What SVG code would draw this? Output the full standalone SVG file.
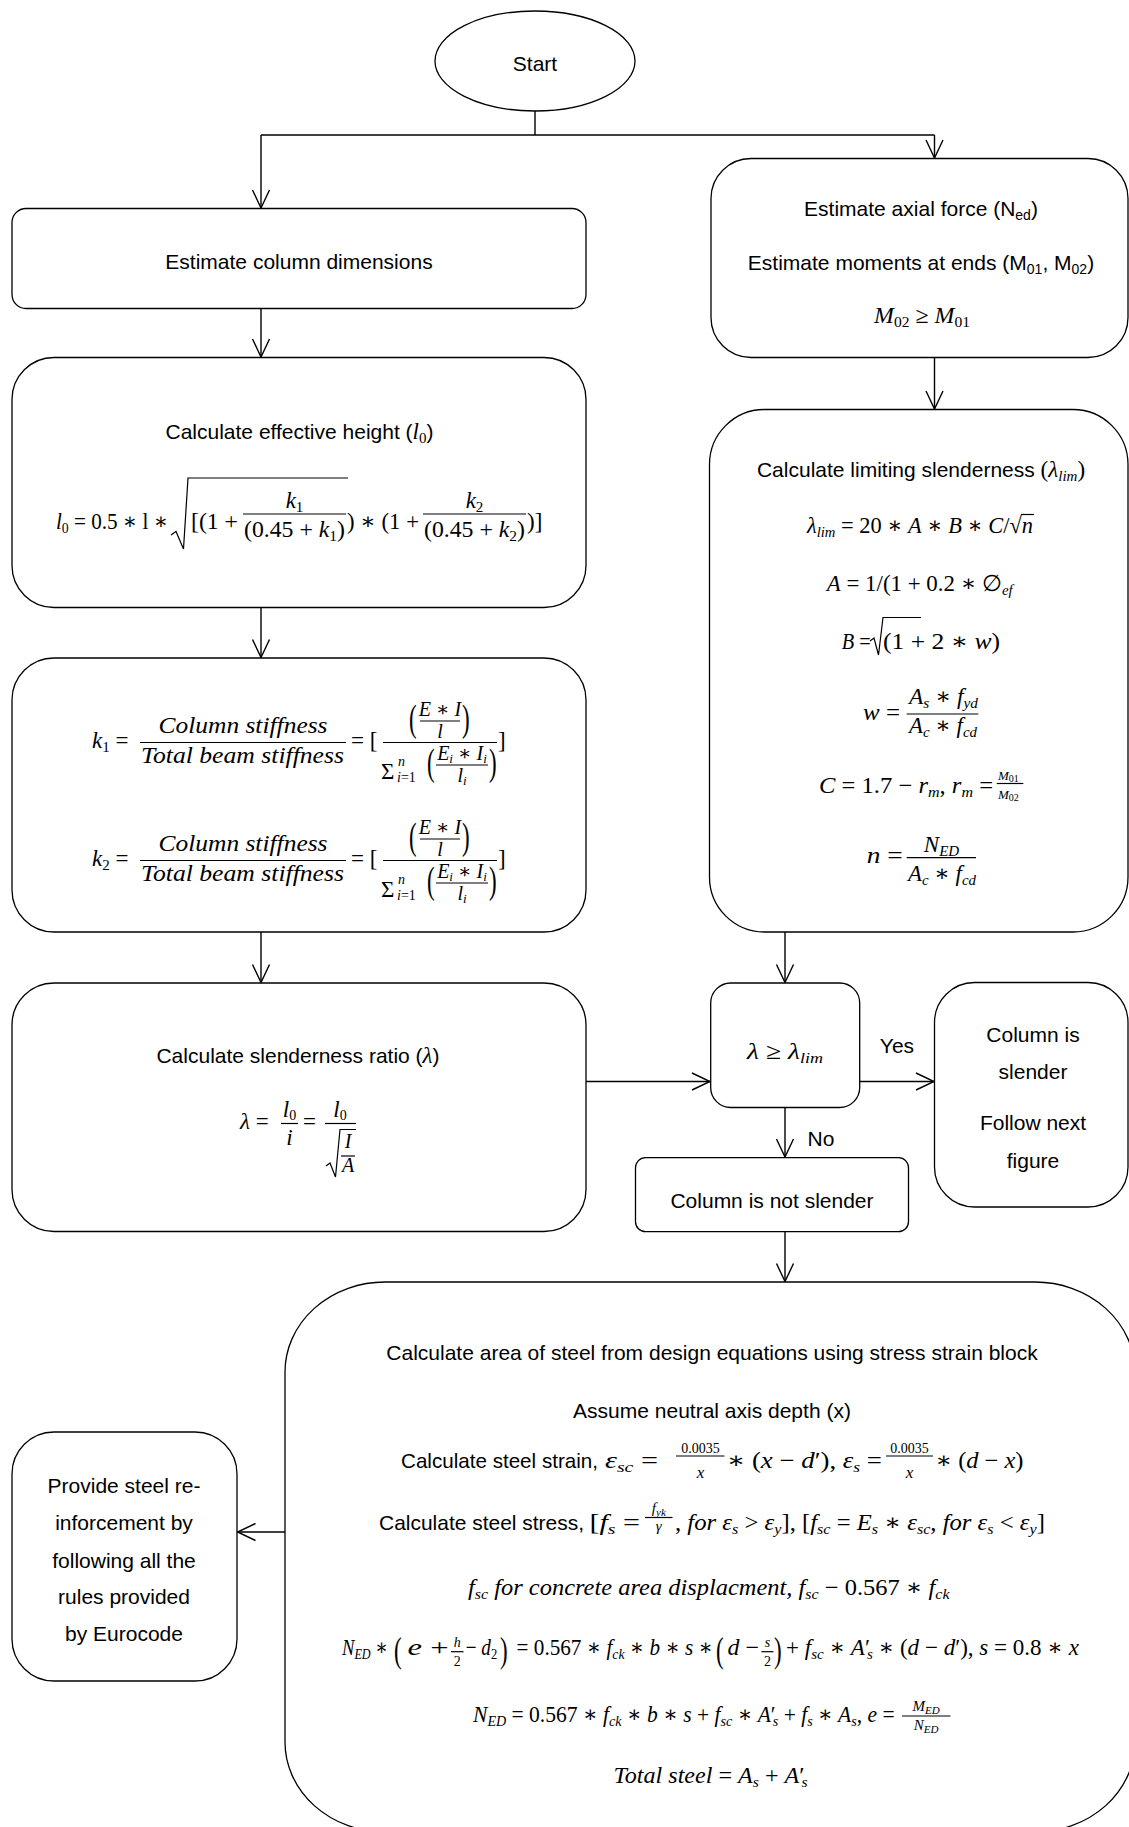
<svg xmlns="http://www.w3.org/2000/svg" width="1129" height="1827" viewBox="0 0 1129 1827">
<defs>
<style>
.box{fill:#fff;stroke:#000;stroke-width:1.3}
.t{font-family:"Liberation Sans",Arial,sans-serif;font-size:21px;fill:#000;text-anchor:middle}
.st{text-anchor:start}
.m{font-family:"Liberation Serif","DejaVu Serif",serif;font-size:23px;font-style:italic;fill:#000}
.mc{text-anchor:middle}
.u{font-style:normal}
.p{font-size:27px;font-style:normal}
.b{stroke:#000;stroke-width:1.2;fill:none}
.conn line{stroke:#000;stroke-width:1.4;fill:none}
</style>
<marker id="ah" viewBox="0 0 20 20" refX="19" refY="10" markerWidth="20" markerHeight="20" markerUnits="userSpaceOnUse" orient="auto">
<path d="M1,1.5 L19,10 L1,18.5" fill="none" stroke="#000" stroke-width="1.4"/>
</marker>
</defs>
<rect width="1129" height="1827" fill="#fff"/>

<g id="connectors" class="conn">
<line x1="535" y1="111" x2="535" y2="135"/>
<line x1="261" y1="135" x2="934.5" y2="135"/>
<line x1="261" y1="135" x2="261" y2="208" marker-end="url(#ah)"/>
<line x1="934.5" y1="135" x2="934.5" y2="158" marker-end="url(#ah)"/>
<line x1="261" y1="308.5" x2="261" y2="357" marker-end="url(#ah)"/>
<line x1="261" y1="607.5" x2="261" y2="657.5" marker-end="url(#ah)"/>
<line x1="261" y1="932" x2="261" y2="982.5" marker-end="url(#ah)"/>
<line x1="934.5" y1="357.5" x2="934.5" y2="409" marker-end="url(#ah)"/>
<line x1="785" y1="932" x2="785" y2="982.5" marker-end="url(#ah)"/>
<line x1="586" y1="1081.5" x2="710" y2="1081.5" marker-end="url(#ah)"/>
<line x1="859.7" y1="1081.5" x2="934" y2="1081.5" marker-end="url(#ah)"/>
<line x1="785" y1="1107.5" x2="785" y2="1157" marker-end="url(#ah)"/>
<line x1="785" y1="1231.7" x2="785" y2="1281.5" marker-end="url(#ah)"/>
<line x1="285" y1="1532" x2="237.5" y2="1532" marker-end="url(#ah)"/>
</g>

<g id="start">
<ellipse class="box" cx="535" cy="61" rx="100" ry="50"/>
<text class="t" x="535" y="71">Start</text>
</g>

<g id="estimate-dimensions">
<rect class="box" x="12" y="208.5" width="574" height="100" rx="14"/>
<text class="t" x="299" y="268.5">Estimate column dimensions</text>
</g>

<g id="estimate-forces">
<rect class="box" x="711" y="158.5" width="417" height="199" rx="40"/>
<text class="t" x="921" y="216">Estimate axial force (N<tspan style="font-size:14px" dy="4">ed</tspan><tspan dy="-4">)</tspan></text>
<text class="t" x="921" y="270">Estimate moments at ends (M<tspan style="font-size:14px" dy="4">01</tspan><tspan dy="-4">, M</tspan><tspan style="font-size:14px" dy="4">02</tspan><tspan dy="-4">)</tspan></text>
<text class="m" x="874" y="323" textLength="96" lengthAdjust="spacingAndGlyphs">M<tspan class="u" style="font-size:15px" dy="4">02</tspan><tspan class="u" dy="-4"> ≥ </tspan>M<tspan class="u" style="font-size:15px" dy="4">01</tspan></text>
</g>

<g id="effective-height">
<rect class="box" x="12" y="357.5" width="574" height="250" rx="42"/>
<text class="t" x="299.5" y="439">Calculate effective height (<tspan class="m">l</tspan><tspan class="m u" style="font-size:15px" dy="4">0</tspan><tspan dy="-4">)</tspan></text>
<text class="m" x="56" y="529" textLength="112" lengthAdjust="spacingAndGlyphs">l<tspan class="u" style="font-size:15px" dy="4">0</tspan><tspan class="u" dy="-4"> = 0.5 ∗ l ∗</tspan></text>
<path class="b" d="M171,535 L176,531.5 L183.5,549 L188,478 L348,478"/>
<text class="m u" x="191" y="529" textLength="47" lengthAdjust="spacingAndGlyphs">[(1 +</text>
<line class="b" x1="243" y1="514" x2="346" y2="514"/>
<text class="m mc" x="294.5" y="508">k<tspan class="u" style="font-size:15px" dy="4">1</tspan></text>
<text class="m mc u" x="294.5" y="537" textLength="101" lengthAdjust="spacingAndGlyphs">(0.45 + <tspan style="font-style:italic">k</tspan><tspan style="font-size:15px" dy="4">1</tspan><tspan dy="-4">)</tspan></text>
<text class="m u" x="347" y="529" textLength="72" lengthAdjust="spacingAndGlyphs">) ∗ (1 +</text>
<line class="b" x1="423" y1="514" x2="526" y2="514"/>
<text class="m mc" x="474.5" y="508">k<tspan class="u" style="font-size:15px" dy="4">2</tspan></text>
<text class="m mc u" x="474.5" y="537" textLength="101" lengthAdjust="spacingAndGlyphs">(0.45 + <tspan style="font-style:italic">k</tspan><tspan style="font-size:15px" dy="4">2</tspan><tspan dy="-4">)</tspan></text>
<text class="m u" x="527" y="529">)]</text>
</g>

<g id="stiffness">
<rect class="box" x="12" y="658" width="574" height="274" rx="42"/>
<text class="m" x="92" y="748">k<tspan class="u" style="font-size:15px" dy="4">1</tspan><tspan class="u" dy="-4"> =</tspan></text>
<line class="b" x1="140" y1="742.5" x2="346" y2="742.5"/>
<text class="m" x="158.5" y="733" textLength="169" lengthAdjust="spacingAndGlyphs">Column stiffness</text>
<text class="m" x="141" y="763" textLength="203" lengthAdjust="spacingAndGlyphs">Total beam stiffness</text>
<text class="m u" x="351" y="748">= [</text>
<line class="b" x1="383" y1="742.5" x2="497" y2="742.5"/>
<text class="m p" transform="translate(409 731) scale(0.85 1.4)">(</text>
<line class="b" x1="420" y1="721" x2="460" y2="721"/>
<text class="m mc" x="440" y="716" style="font-size:20px">E<tspan class="u"> ∗ </tspan>I</text>
<text class="m mc" x="440" y="738" style="font-size:20px">l</text>
<text class="m p" transform="translate(462 731) scale(0.85 1.4)">)</text>
<text class="m u" x="381" y="779">Σ</text>
<text class="m" x="398" y="766" style="font-size:14px">n</text>
<text class="m" x="397" y="782" style="font-size:14px">i<tspan class="u">=1</tspan></text>
<text class="m p" transform="translate(427 775) scale(0.85 1.4)">(</text>
<line class="b" x1="436" y1="765" x2="488" y2="765"/>
<text class="m mc" x="462" y="760" style="font-size:20px">E<tspan style="font-size:13px" dy="3">i</tspan><tspan class="u" dy="-3"> ∗ </tspan>I<tspan style="font-size:13px" dy="3">i</tspan></text>
<text class="m mc" x="462" y="782" style="font-size:20px">l<tspan style="font-size:13px" dy="3">i</tspan></text>
<text class="m p" transform="translate(489 775) scale(0.85 1.4)">)</text>
<text class="m u" x="498" y="748">]</text>

<text class="m" x="92" y="866">k<tspan class="u" style="font-size:15px" dy="4">2</tspan><tspan class="u" dy="-4"> =</tspan></text>
<line class="b" x1="140" y1="860.5" x2="346" y2="860.5"/>
<text class="m" x="158.5" y="851" textLength="169" lengthAdjust="spacingAndGlyphs">Column stiffness</text>
<text class="m" x="141" y="881" textLength="203" lengthAdjust="spacingAndGlyphs">Total beam stiffness</text>
<text class="m u" x="351" y="866">= [</text>
<line class="b" x1="383" y1="860.5" x2="497" y2="860.5"/>
<text class="m p" transform="translate(409 849) scale(0.85 1.4)">(</text>
<line class="b" x1="420" y1="839" x2="460" y2="839"/>
<text class="m mc" x="440" y="834" style="font-size:20px">E<tspan class="u"> ∗ </tspan>I</text>
<text class="m mc" x="440" y="856" style="font-size:20px">l</text>
<text class="m p" transform="translate(462 849) scale(0.85 1.4)">)</text>
<text class="m u" x="381" y="897">Σ</text>
<text class="m" x="398" y="884" style="font-size:14px">n</text>
<text class="m" x="397" y="900" style="font-size:14px">i<tspan class="u">=1</tspan></text>
<text class="m p" transform="translate(427 893) scale(0.85 1.4)">(</text>
<line class="b" x1="436" y1="883" x2="488" y2="883"/>
<text class="m mc" x="462" y="878" style="font-size:20px">E<tspan style="font-size:13px" dy="3">i</tspan><tspan class="u" dy="-3"> ∗ </tspan>I<tspan style="font-size:13px" dy="3">i</tspan></text>
<text class="m mc" x="462" y="900" style="font-size:20px">l<tspan style="font-size:13px" dy="3">i</tspan></text>
<text class="m p" transform="translate(489 893) scale(0.85 1.4)">)</text>
<text class="m u" x="498" y="866">]</text>
</g>

<g id="slenderness-ratio">
<rect class="box" x="12" y="983" width="574" height="248.5" rx="42"/>
<text class="t" x="298" y="1063">Calculate slenderness ratio (<tspan class="m">λ</tspan>)</text>
<text class="m" x="240" y="1129">λ<tspan class="u"> =</tspan></text>
<line class="b" x1="281" y1="1123.5" x2="298" y2="1123.5"/>
<text class="m mc" x="289.5" y="1117">l<tspan class="u" style="font-size:14px" dy="3">0</tspan></text>
<text class="m mc" x="289.5" y="1145">i</text>
<text class="m u" x="303" y="1129">=</text>
<line class="b" x1="325" y1="1123.5" x2="356" y2="1123.5"/>
<text class="m mc" x="340" y="1117">l<tspan class="u" style="font-size:14px" dy="3">0</tspan></text>
<path class="b" d="M326,1166 L330,1163 L335.5,1177 L340,1129.5 L356,1129.5"/>
<text class="m mc" x="348" y="1148" style="font-size:20px">I</text>
<line class="b" x1="341" y1="1156" x2="355" y2="1156"/>
<text class="m mc" x="348" y="1172" style="font-size:20px">A</text>
</g>

<g id="limiting-slenderness">
<rect class="box" x="709.5" y="409.5" width="418.5" height="522.5" rx="55"/>
<text class="t" x="921" y="477">Calculate limiting slenderness <tspan class="m u">(</tspan><tspan class="m">λ</tspan><tspan class="m" style="font-size:15px" dy="4">lim</tspan><tspan class="m u" dy="-4">)</tspan></text>
<text class="m" x="807" y="533" textLength="226" lengthAdjust="spacingAndGlyphs">λ<tspan style="font-size:15px" dy="4">lim</tspan><tspan class="u" dy="-4"> = 20 ∗ </tspan>A<tspan class="u"> ∗ </tspan>B<tspan class="u"> ∗ </tspan>C<tspan class="u">/√</tspan>n</text>
<line class="b" x1="1021" y1="514.5" x2="1034" y2="514.5"/>
<text class="m" x="826.7" y="591" textLength="186" lengthAdjust="spacingAndGlyphs">A<tspan class="u"> = 1/(1 + 0.2 ∗ ∅</tspan><tspan style="font-size:15px" dy="4">ef</tspan></text>
<text class="m" x="841.7" y="649" textLength="29" lengthAdjust="spacingAndGlyphs">B<tspan class="u"> =</tspan></text>
<path class="b" d="M870,641 L874,638 L878.5,655 L883,617.5 L921,617.5"/>
<text class="m u" x="883" y="649" textLength="117" lengthAdjust="spacingAndGlyphs">(1 + 2 ∗ <tspan style="font-style:italic">w</tspan>)</text>
<text class="m" x="863" y="720" textLength="37" lengthAdjust="spacingAndGlyphs">w<tspan class="u"> =</tspan></text>
<line class="b" x1="906.7" y1="714" x2="978.3" y2="714"/>
<text class="m" x="909" y="704" textLength="69" lengthAdjust="spacingAndGlyphs">A<tspan style="font-size:15px" dy="4">s</tspan><tspan class="u" dy="-4"> ∗ </tspan>f<tspan style="font-size:15px" dy="4">yd</tspan></text>
<text class="m" x="909" y="733" textLength="68" lengthAdjust="spacingAndGlyphs">A<tspan style="font-size:15px" dy="4">c</tspan><tspan class="u" dy="-4"> ∗ </tspan>f<tspan style="font-size:15px" dy="4">cd</tspan></text>
<text class="m" x="819" y="793" textLength="174" lengthAdjust="spacingAndGlyphs">C<tspan class="u"> = 1.7 − </tspan>r<tspan style="font-size:15px" dy="4">m</tspan><tspan class="u" dy="-4">, </tspan>r<tspan style="font-size:15px" dy="4">m</tspan><tspan class="u" dy="-4"> =</tspan></text>
<line class="b" x1="996.7" y1="783.5" x2="1023.3" y2="783.5"/>
<text class="m" x="998" y="780" style="font-size:13px">M<tspan class="u" style="font-size:10px" dy="2">01</tspan></text>
<text class="m" x="998" y="799" style="font-size:13px">M<tspan class="u" style="font-size:10px" dy="2">02</tspan></text>
<text class="m" x="866.7" y="863" textLength="36" lengthAdjust="spacingAndGlyphs">n<tspan class="u"> =</tspan></text>
<line class="b" x1="906.7" y1="857.7" x2="976" y2="857.7"/>
<text class="m mc" x="941.5" y="851.5">N<tspan style="font-size:15px" dy="4">ED</tspan></text>
<text class="m" x="908" y="881" textLength="68" lengthAdjust="spacingAndGlyphs">A<tspan style="font-size:15px" dy="4">c</tspan><tspan class="u" dy="-4"> ∗ </tspan>f<tspan style="font-size:15px" dy="4">cd</tspan></text>
</g>

<g id="decision">
<rect class="box" x="710.7" y="983" width="149" height="124.5" rx="20"/>
<text class="m" x="747" y="1059" textLength="76" lengthAdjust="spacingAndGlyphs">λ<tspan class="u"> ≥ </tspan>λ<tspan style="font-size:15px" dy="4">lim</tspan></text>
<text class="t" x="897" y="1053">Yes</text>
<text class="t" x="821" y="1145.5">No</text>
</g>

<g id="slender">
<rect class="box" x="934.5" y="982.5" width="193.5" height="224.5" rx="40"/>
<text class="t" x="1033" y="1042">Column is</text>
<text class="t" x="1033" y="1079">slender</text>
<text class="t" x="1033" y="1130">Follow next</text>
<text class="t" x="1033" y="1168">figure</text>
</g>

<g id="not-slender">
<rect class="box" x="635.5" y="1157.7" width="273" height="74" rx="10"/>
<text class="t" x="772" y="1207.5">Column is not slender</text>
</g>

<g id="steel-area">
<rect class="box" x="285" y="1282" width="850" height="550" rx="100" ry="90"/>
<text class="t" x="712" y="1360">Calculate area of steel from design equations using stress strain block</text>
<text class="t" x="712" y="1418">Assume neutral axis depth (x)</text>

<text class="t st" x="401" y="1468" textLength="197" lengthAdjust="spacingAndGlyphs">Calculate steel strain,</text>
<text class="m" x="605" y="1468" textLength="53" lengthAdjust="spacingAndGlyphs">ε<tspan style="font-size:15px" dy="4">sc</tspan><tspan class="u" dy="-4"> =</tspan></text>
<line class="b" x1="676" y1="1456" x2="724.5" y2="1456"/>
<text class="m mc u" x="700.4" y="1452.5" style="font-size:14px">0.0035</text>
<text class="m mc" x="700.4" y="1478" style="font-size:17px">x</text>
<text class="m" x="727" y="1468" textLength="155" lengthAdjust="spacingAndGlyphs"><tspan class="u">∗ (</tspan>x<tspan class="u"> − </tspan>d<tspan class="u">′), </tspan>ε<tspan style="font-size:15px" dy="4">s</tspan><tspan class="u" dy="-4"> =</tspan></text>
<line class="b" x1="886" y1="1456" x2="933" y2="1456"/>
<text class="m mc u" x="909.5" y="1452.5" style="font-size:14px">0.0035</text>
<text class="m mc" x="909.5" y="1478" style="font-size:17px">x</text>
<text class="m" x="935.5" y="1468" textLength="88" lengthAdjust="spacingAndGlyphs"><tspan class="u">∗ (</tspan>d<tspan class="u"> − </tspan>x<tspan class="u">)</tspan></text>

<text class="t st" x="379" y="1530" textLength="205" lengthAdjust="spacingAndGlyphs">Calculate steel stress,</text>
<text class="m" x="589.5" y="1530" textLength="50.5" lengthAdjust="spacingAndGlyphs"><tspan class="u">[</tspan>f<tspan style="font-size:15px" dy="4">s</tspan><tspan class="u" dy="-4"> =</tspan></text>
<line class="b" x1="645" y1="1517.5" x2="672.5" y2="1517.5"/>
<text class="m mc" x="658.8" y="1513" style="font-size:15px">f<tspan style="font-size:11px" dy="3">yk</tspan></text>
<text class="m mc" x="658.8" y="1531" style="font-size:15px">γ</text>
<text class="m" x="675" y="1530" textLength="370" lengthAdjust="spacingAndGlyphs"><tspan class="u">, </tspan>for ε<tspan style="font-size:15px" dy="4">s</tspan><tspan class="u" dy="-4"> &gt; </tspan>ε<tspan style="font-size:15px" dy="4">y</tspan><tspan class="u" dy="-4">], [</tspan>f<tspan style="font-size:15px" dy="4">sc</tspan><tspan class="u" dy="-4"> = </tspan>E<tspan style="font-size:15px" dy="4">s</tspan><tspan class="u" dy="-4"> ∗ </tspan>ε<tspan style="font-size:15px" dy="4">sc</tspan><tspan class="u" dy="-4">, </tspan>for ε<tspan style="font-size:15px" dy="4">s</tspan><tspan class="u" dy="-4"> &lt; </tspan>ε<tspan style="font-size:15px" dy="4">y</tspan><tspan class="u" dy="-4">]</tspan></text>

<text class="m" x="468" y="1595" textLength="481.5" lengthAdjust="spacingAndGlyphs">f<tspan style="font-size:15px" dy="4">sc</tspan><tspan dy="-4">  for concrete area displacment, </tspan>f<tspan style="font-size:15px" dy="4">sc</tspan><tspan class="u" dy="-4"> − 0.567 ∗ </tspan>f<tspan style="font-size:15px" dy="4">ck</tspan></text>

<text class="m" x="342" y="1655" textLength="46" lengthAdjust="spacingAndGlyphs">N<tspan style="font-size:15px" dy="4">ED</tspan><tspan class="u" dy="-4"> ∗</tspan></text>
<text class="m p" transform="translate(394 1662) scale(0.85 1.35)">(</text>
<text class="m" x="407.6" y="1655" textLength="41" lengthAdjust="spacingAndGlyphs">e<tspan class="u"> +</tspan></text>
<line class="b" x1="451" y1="1651.7" x2="463.5" y2="1651.7"/>
<text class="m mc" x="457.2" y="1646.5" style="font-size:14px">h</text>
<text class="m mc u" x="457.2" y="1666" style="font-size:14px">2</text>
<text class="m" x="465.7" y="1655" textLength="31.5" lengthAdjust="spacingAndGlyphs"><tspan class="u">− </tspan>d<tspan class="u" style="font-size:15px" dy="4">2</tspan></text>
<text class="m p" transform="translate(500 1662) scale(0.85 1.35)">)</text>
<text class="m" x="516.6" y="1655" textLength="196.4" lengthAdjust="spacingAndGlyphs"><tspan class="u">= 0.567 ∗ </tspan>f<tspan style="font-size:15px" dy="4">ck</tspan><tspan class="u" dy="-4"> ∗ </tspan>b<tspan class="u"> ∗ </tspan>s<tspan class="u"> ∗</tspan></text>
<text class="m p" transform="translate(716 1662) scale(0.85 1.35)">(</text>
<text class="m" x="727.5" y="1655" textLength="31.5" lengthAdjust="spacingAndGlyphs">d<tspan class="u"> −</tspan></text>
<line class="b" x1="761.4" y1="1651.7" x2="773.5" y2="1651.7"/>
<text class="m mc" x="767.5" y="1646.5" style="font-size:14px">s</text>
<text class="m mc u" x="767.5" y="1666" style="font-size:14px">2</text>
<text class="m p" transform="translate(774 1662) scale(0.85 1.35)">)</text>
<text class="m" x="786" y="1655" textLength="293" lengthAdjust="spacingAndGlyphs"><tspan class="u">+ </tspan>f<tspan style="font-size:15px" dy="4">sc</tspan><tspan class="u" dy="-4"> ∗ </tspan>A<tspan class="u">′</tspan><tspan style="font-size:15px" dy="4" dx="-3">s</tspan><tspan class="u" dy="-4"> ∗ (</tspan>d<tspan class="u"> − </tspan>d<tspan class="u">′), </tspan>s<tspan class="u"> = 0.8 ∗ </tspan>x</text>

<text class="m" x="473" y="1722" textLength="421.7" lengthAdjust="spacingAndGlyphs">N<tspan style="font-size:15px" dy="4">ED</tspan><tspan class="u" dy="-4"> = 0.567 ∗ </tspan>f<tspan style="font-size:15px" dy="4">ck</tspan><tspan class="u" dy="-4"> ∗ </tspan>b<tspan class="u"> ∗ </tspan>s<tspan class="u"> + </tspan>f<tspan style="font-size:15px" dy="4">sc</tspan><tspan class="u" dy="-4"> ∗ </tspan>A<tspan class="u">′</tspan><tspan style="font-size:15px" dy="4" dx="-3">s</tspan><tspan class="u" dy="-4"> + </tspan>f<tspan style="font-size:15px" dy="4">s</tspan><tspan class="u" dy="-4"> ∗ </tspan>A<tspan style="font-size:15px" dy="4">s</tspan><tspan class="u" dy="-4">, </tspan>e<tspan class="u"> =</tspan></text>
<line class="b" x1="902" y1="1716" x2="950.5" y2="1716"/>
<text class="m mc" x="926" y="1711" style="font-size:15px">M<tspan style="font-size:11px" dy="3">ED</tspan></text>
<text class="m mc" x="926" y="1730" style="font-size:15px">N<tspan style="font-size:11px" dy="3">ED</tspan></text>

<text class="m" x="613.6" y="1783" textLength="194" lengthAdjust="spacingAndGlyphs">Total steel<tspan class="u"> = </tspan>A<tspan style="font-size:15px" dy="4">s</tspan><tspan class="u" dy="-4"> + </tspan>A<tspan class="u">′</tspan><tspan style="font-size:15px" dy="4" dx="-3">s</tspan></text>
</g>

<g id="reinforcement">
<rect class="box" x="12" y="1432" width="225" height="249" rx="42"/>
<text class="t" x="124" y="1493">Provide steel re-</text>
<text class="t" x="124" y="1530">inforcement by</text>
<text class="t" x="124" y="1567.5">following all the</text>
<text class="t" x="124" y="1604">rules provided</text>
<text class="t" x="124" y="1641">by Eurocode</text>
</g>
</svg>
